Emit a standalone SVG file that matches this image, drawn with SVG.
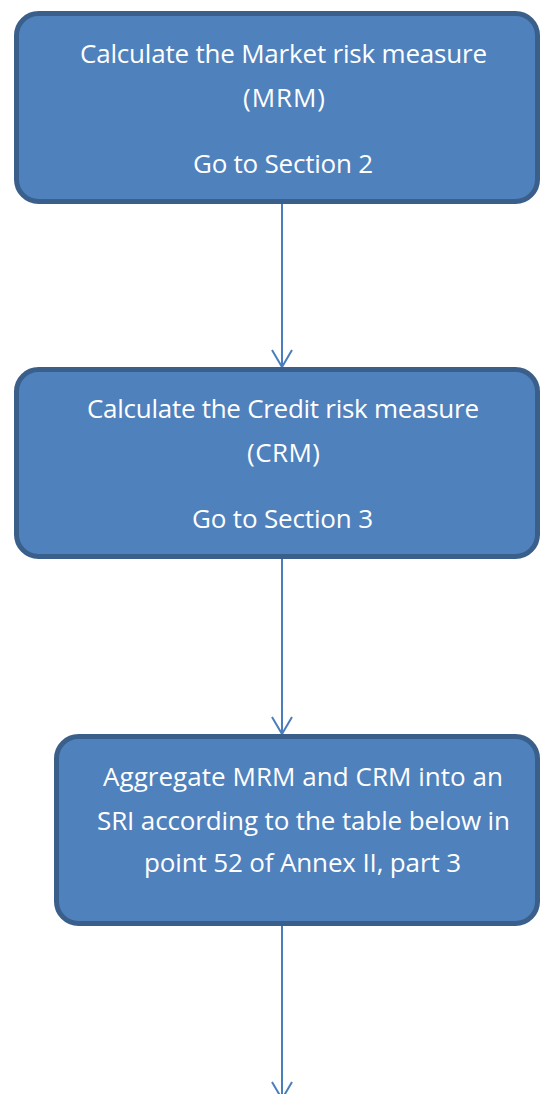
<svg xmlns="http://www.w3.org/2000/svg" width="540" height="1094" viewBox="0 0 540 1094">
  <style>
    .box { fill: #4F81BD; stroke: #3A5F8B; stroke-width: 5; }
    .lbl { fill: #FFFFFF; font-family: "Open Sans", "Liberation Sans", sans-serif; font-size: 26px; text-anchor: middle; }
    .conn { fill: none; stroke: #4A7EBB; stroke-width: 2; }
  </style>
  <defs>
    <marker id="openArrow" markerUnits="userSpaceOnUse" markerWidth="40" markerHeight="40" viewBox="-20 -20 40 40" refX="0" refY="0" orient="auto" overflow="visible">
      <path d="M-17,-10 L0,0 L-17,10" fill="none" stroke="#4A7EBB" stroke-width="2"/>
    </marker>
  </defs>
  <rect width="540" height="1094" fill="#FFFFFF"/>
  <g id="connectors">
    <line class="conn" x1="282" y1="204" x2="282" y2="367" marker-end="url(#openArrow)"/>
    <line class="conn" x1="282" y1="559" x2="282" y2="734" marker-end="url(#openArrow)"/>
    <line class="conn" x1="282" y1="926" x2="282" y2="1099" marker-end="url(#openArrow)"/>
  </g>
  <g id="node-mrm">
    <rect class="box" x="16.5" y="13.5" width="521" height="188" rx="22" ry="22"/>
    <text class="lbl" x="283.5" y="63" textLength="407">Calculate the Market risk measure</text>
    <text class="lbl" x="284" y="107" textLength="82">(MRM)</text>
    <text class="lbl" x="283" y="173" textLength="180">Go to Section 2</text>
  </g>
  <g id="node-crm">
    <rect class="box" x="16.5" y="369.5" width="521" height="187" rx="22" ry="22"/>
    <text class="lbl" x="283" y="418" textLength="392">Calculate the Credit risk measure</text>
    <text class="lbl" x="283.5" y="462" textLength="73">(CRM)</text>
    <text class="lbl" x="282.5" y="528" textLength="181">Go to Section 3</text>
  </g>
  <g id="node-sri">
    <rect class="box" x="56.5" y="736.5" width="481" height="187" rx="22" ry="22"/>
    <text class="lbl" x="303" y="786" textLength="400">Aggregate MRM and CRM into an</text>
    <text class="lbl" x="303.5" y="830" textLength="413">SRI according to the table below in</text>
    <text class="lbl" x="302.5" y="872" textLength="317">point 52 of Annex II, part 3</text>
  </g>
</svg>
